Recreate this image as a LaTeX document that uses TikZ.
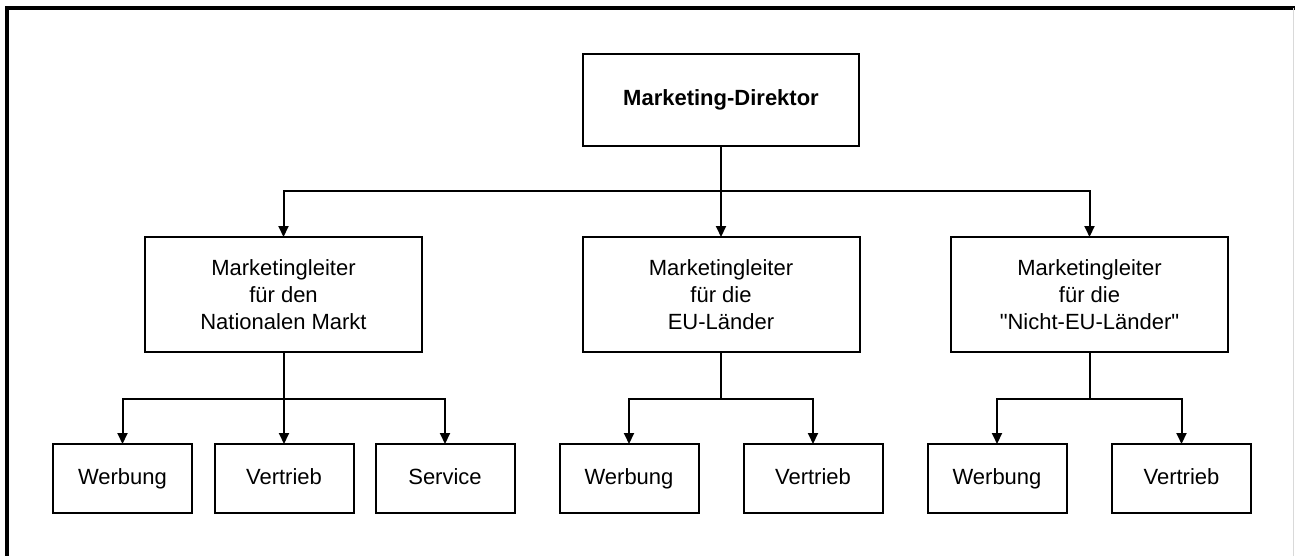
\documentclass[tikz,border=0pt]{standalone}
\usepackage{fontspec}
\setmainfont{Liberation Sans}
\usetikzlibrary{arrows.meta}

\begin{document}
\begin{tikzpicture}[x=1pt, y=-1pt,
  every node/.style={font=\fontsize{22}{27}\selectfont},
  box/.style={draw=black, line width=2pt, fill=white, align=center,
              inner sep=0pt, outer sep=0pt},
  chief/.style={box, minimum width=276pt, minimum height=92pt,
                text height=16pt, text depth=5pt,
                font=\fontsize{22}{27}\selectfont\bfseries},
  lead/.style={box, minimum width=277pt, minimum height=115pt},
  unit/.style={box, minimum width=139pt, minimum height=69pt,
               text height=16pt, text depth=5pt},
  link/.style={line width=2pt, black},
  arr/.style={link, -{Triangle[width=10pt,length=11pt]}}
]
  \useasboundingbox (0,0) rectangle (1295,556);

  % page frame
  \draw[line width=4pt] (7,556) -- (7,8) -- (1295,8);
  \draw[black!15, line width=1pt] (1293.5,8) -- (1293.5,556);

  % director
  \node[chief] (dir) at (721,100) {Marketing-Direktor};

  % market heads
  \node[lead] (nat) at (283.5,294.5) {Marketingleiter\\für den\\Nationalen Markt};
  \node[lead] (eu)  at (721,294.5)   {Marketingleiter\\für die\\EU-Länder};
  \node[lead] (neu) at (1089.5,294.5) {Marketingleiter\\für die\\\textquotedbl Nicht-EU-Länder\textquotedbl};

  % departments
  \node[unit] (natW) at (122.5,478.5) {Werbung};
  \node[unit] (natV) at (284,478.5)   {Vertrieb};
  \node[unit] (natS) at (445,478.5)   {Service};
  \node[unit] (euW)  at (629,478.5)   {Werbung};
  \node[unit] (euV)  at (813,478.5)   {Vertrieb};
  \node[unit] (neuW) at (997,478.5)   {Werbung};
  \node[unit] (neuV) at (1181.5,478.5) {Vertrieb};

  % junction points
  \coordinate (j0) at (721,191.5);
  \coordinate (j1) at (283.5,398.5);
  \coordinate (j2) at (721,398.5);
  \coordinate (j3) at (1089.5,398.5);

  % director to heads
  \draw[link] (dir.south) -- (j0);
  \draw[arr] (j0) -| (nat.north);
  \draw[arr] (j0) -- (eu.north);
  \draw[arr] (j0) -| (neu.north);

  % national market
  \draw[link] (nat.south) -- (j1);
  \draw[arr] (j1) -| (natW.north);
  \draw[arr] (j1) -| (natV.north);
  \draw[arr] (j1) -| (natS.north);

  % EU countries
  \draw[link] (eu.south) -- (j2);
  \draw[arr] (j2) -| (euW.north);
  \draw[arr] (j2) -| (euV.north);

  % non-EU countries
  \draw[link] (neu.south) -- (j3);
  \draw[arr] (j3) -| (neuW.north);
  \draw[arr] (j3) -| (neuV.north);
\end{tikzpicture}
\end{document}
